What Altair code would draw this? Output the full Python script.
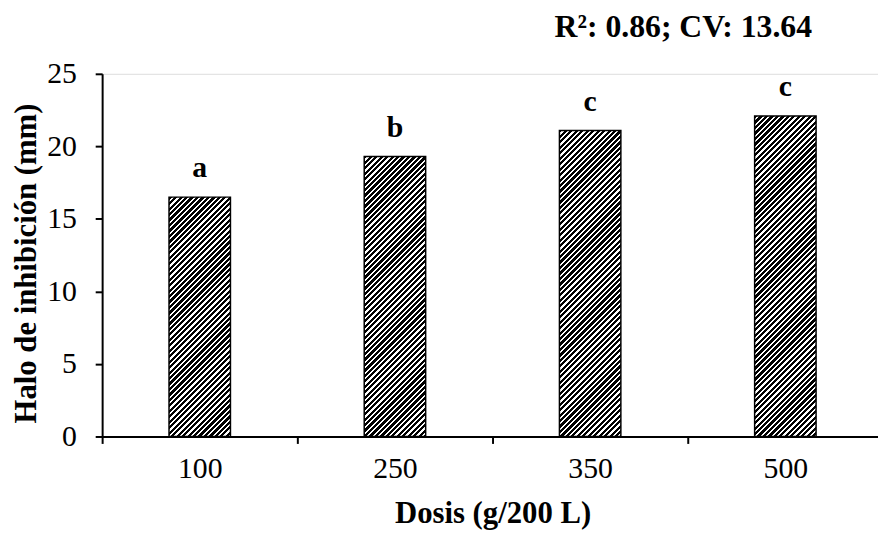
import math
import altair as alt
import pandas as pd

doses = ["100", "250", "350", "500"]
halo = [16.5, 19.3, 21.1, 22.1]
letters = ["a", "b", "c", "c"]
title_text = "R\u00b2: 0.86; CV: 13.64"

df = pd.DataFrame({"dose": doses, "halo": halo, "letter": letters})

FONT = "Liberation Serif"
PLOT_W = 783
PLOT_H = 366
Y_MAX = 25
BAR_W = 62
BAND_RANGE = [0, 788]

PERIOD = 3.9   # stripe period (perpendicular, px)
DARK = 0.58    # dark share of a period


def hatch(h_px, w_px=BAR_W):
    L = (w_px + h_px) / math.sqrt(2)
    s = (w_px + h_px) / (w_px ** 2 + h_px ** 2)
    stops = []
    n = int(L / PERIOD) + 2
    for k in range(n):
        a = k * PERIOD / L
        b = (k + DARK) * PERIOD / L
        if a > 1:
            break
        stops.append(alt.GradientStop(offset=min(a, 1), color="black"))
        stops.append(alt.GradientStop(offset=min(b, 1), color="black"))
        stops.append(alt.GradientStop(offset=min(b, 1), color="white"))
        c = min((k + 1) * PERIOD / L, 1)
        stops.append(alt.GradientStop(offset=c, color="white"))
    return alt.Gradient(gradient="linear", stops=stops,
                        x1=0, y1=0, x2=s * w_px, y2=s * h_px)


x_enc = alt.X(
    "dose:N", sort=doses,
    scale=alt.Scale(range=BAND_RANGE, paddingInner=0, paddingOuter=0),
    axis=alt.Axis(
        title="Dosis (g/200 L)", labelAngle=0, tickBand="extent",
        tickSize=7, tickWidth=2, tickColor="black",
        domainColor="black", domainWidth=2,
        labelFont=FONT, labelFontSize=30, labelColor="black", labelPadding=10,
        titleFont=FONT, titleFontSize=31, titleFontWeight="bold", titleColor="black",
        titleBaseline="alphabetic", titleY=87,
    ),
)
y_enc = alt.Y(
    "halo:Q",
    scale=alt.Scale(domain=[0, Y_MAX], nice=False),
    axis=alt.Axis(
        title="Halo de inhibición (mm)", values=[0, 5, 10, 15, 20, 25],
        grid=False, tickSize=7, tickWidth=2, tickColor="black",
        domainColor="black", domainWidth=2,
        labelFont=FONT, labelFontSize=30, labelColor="black", labelPadding=19,
        titleFont=FONT, titleFontSize=31, titleFontWeight="bold", titleColor="black",
        titleX=-76, titleY=191, titleBaseline="middle", titleAlign="center",
    ),
)

layers = []
for d, v in zip(doses, halo):
    h_px = v / Y_MAX * PLOT_H
    layers.append(
        alt.Chart(df).transform_filter(alt.datum.dose == d)
        .mark_bar(size=BAR_W, fill=hatch(h_px), stroke="black", strokeWidth=1.5)
        .encode(x=x_enc, y=y_enc)
    )

labels = alt.Chart(df).mark_text(
    font=FONT, fontSize=30, fontWeight="bold", color="black",
    baseline="alphabetic", dy=-20,
).encode(x=alt.X("dose:N", sort=doses), y="halo:Q", text="letter:N")

chart = alt.layer(*layers, labels).properties(
    width=PLOT_W, height=PLOT_H,
    autosize=alt.AutoSizeParams(type="none"),
    padding={"left": 95, "top": 64, "right": 0, "bottom": 96},
    title=alt.TitleParams(
        text=title_text, font=FONT, fontSize=32, fontWeight="bold", color="black",
        anchor="middle", frame="group", dx=195, dy=34, baseline="alphabetic", offset=24,
    ),
).configure_view(stroke=None).configure(background="white")

chart.save("out.html", embed_options={"renderer": "svg", "actions": False})
